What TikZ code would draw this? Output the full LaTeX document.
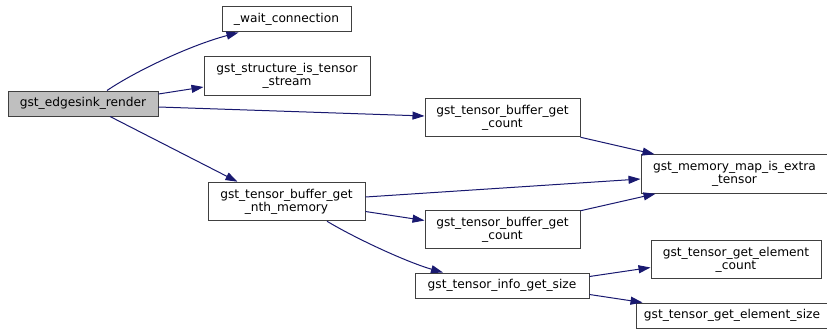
\documentclass[tikz,border=0pt]{standalone}
\usepackage{fontspec}
\setmainfont{DejaVu Sans}
\usetikzlibrary{arrows.meta,calc}
\definecolor{EdgeBlue}{HTML}{191970}
\definecolor{BoxLine}{HTML}{404040}
\definecolor{RootFill}{HTML}{BFBFBF}

\begin{document}
\begin{tikzpicture}[x=1pt,y=-1pt,
    fn/.style={draw=BoxLine,fill=white,line width=1pt,align=center,
      inner sep=0pt,minimum height=25pt,
      font=\fontsize{12.2}{13.2}\selectfont},
    fn2/.style={fn,minimum height=38.5pt},
    call/.style={EdgeBlue,line width=1pt,
      -{Triangle[length=12pt,width=8pt]}}]
        \useasboundingbox (0,0) rectangle (827,329);

        % functions
        \node[fn,fill=RootFill,minimum width=150pt] (render) at (83,103.5)
          {gst\_edgesink\_render};
        \node[fn,minimum width=129pt] (wait) at (286.5,19.5)
          {\_wait\_connection};
        \node[fn2,minimum width=166pt] (structure) at (287,76)
          {gst\_structure\_is\_tensor\\\_stream};
        \node[fn2,minimum width=155pt] (count1) at (502.5,117.5)
          {gst\_tensor\_buffer\_get\\\_count};
        \node[fn2,minimum width=157pt] (nth) at (286.5,201.5)
          {gst\_tensor\_buffer\_get\\\_nth\_memory};
        \node[fn2,minimum width=155pt] (count2) at (502.5,229.5)
          {gst\_tensor\_buffer\_get\\\_count};
        \node[fn,minimum width=174pt] (info) at (502,285.5)
          {gst\_tensor\_info\_get\_size};
        \node[fn2,minimum width=187pt] (memmap) at (734.5,174)
          {gst\_memory\_map\_is\_extra\\\_tensor};
        \node[fn2,minimum width=170pt] (elemcount) at (736,259.5)
          {gst\_tensor\_get\_element\\\_count};
        \node[fn,minimum width=192pt] (elemsize) at (732,315.5)
          {gst\_tensor\_get\_element\_size};

        % calls
        \draw[call] ($(render.north)+(24,0)$)
          .. controls +(28,-19) and +(-49,13) .. ($(wait.south west)+(17,0)$);
        \draw[call] ($(render.east)+(0,-9.5)$) -- ($(structure.west)+(0,11)$);
        \draw[call] ($(render.east)+(0,3.5)$) -- ($(count1.west)+(0,-1.5)$);
        \draw[call] ($(render.south)+(27,0)$) -- ($(nth.north)+(-49,0)$);
        \draw[call] (count1.south east) -- ($(memmap.north west)+(14,0)$);
        \draw[call] ($(nth.east)+(0,-4.5)$) -- ($(memmap.west)+(0,5)$);
        \draw[call] ($(nth.east)+(0,10)$) -- ($(count2.west)+(0,-9)$);
        \draw[call] ($(count2.north east)+(0,1)$)
          -- ($(memmap.south west)+(15,0)$);
        \draw[call] ($(nth.south)+(40.5,0)$)
          .. controls +(30,18) and +(-35,-10) .. ($(info.north)+(-59,0)$);
        \draw[call] ($(info.east)+(0,-9)$) -- ($(elemcount.west)+(0,8)$);
        \draw[call] ($(info.east)+(0,9)$) -- ($(elemsize.north west)+(7,0)$);
      \end{tikzpicture}
\end{document}
